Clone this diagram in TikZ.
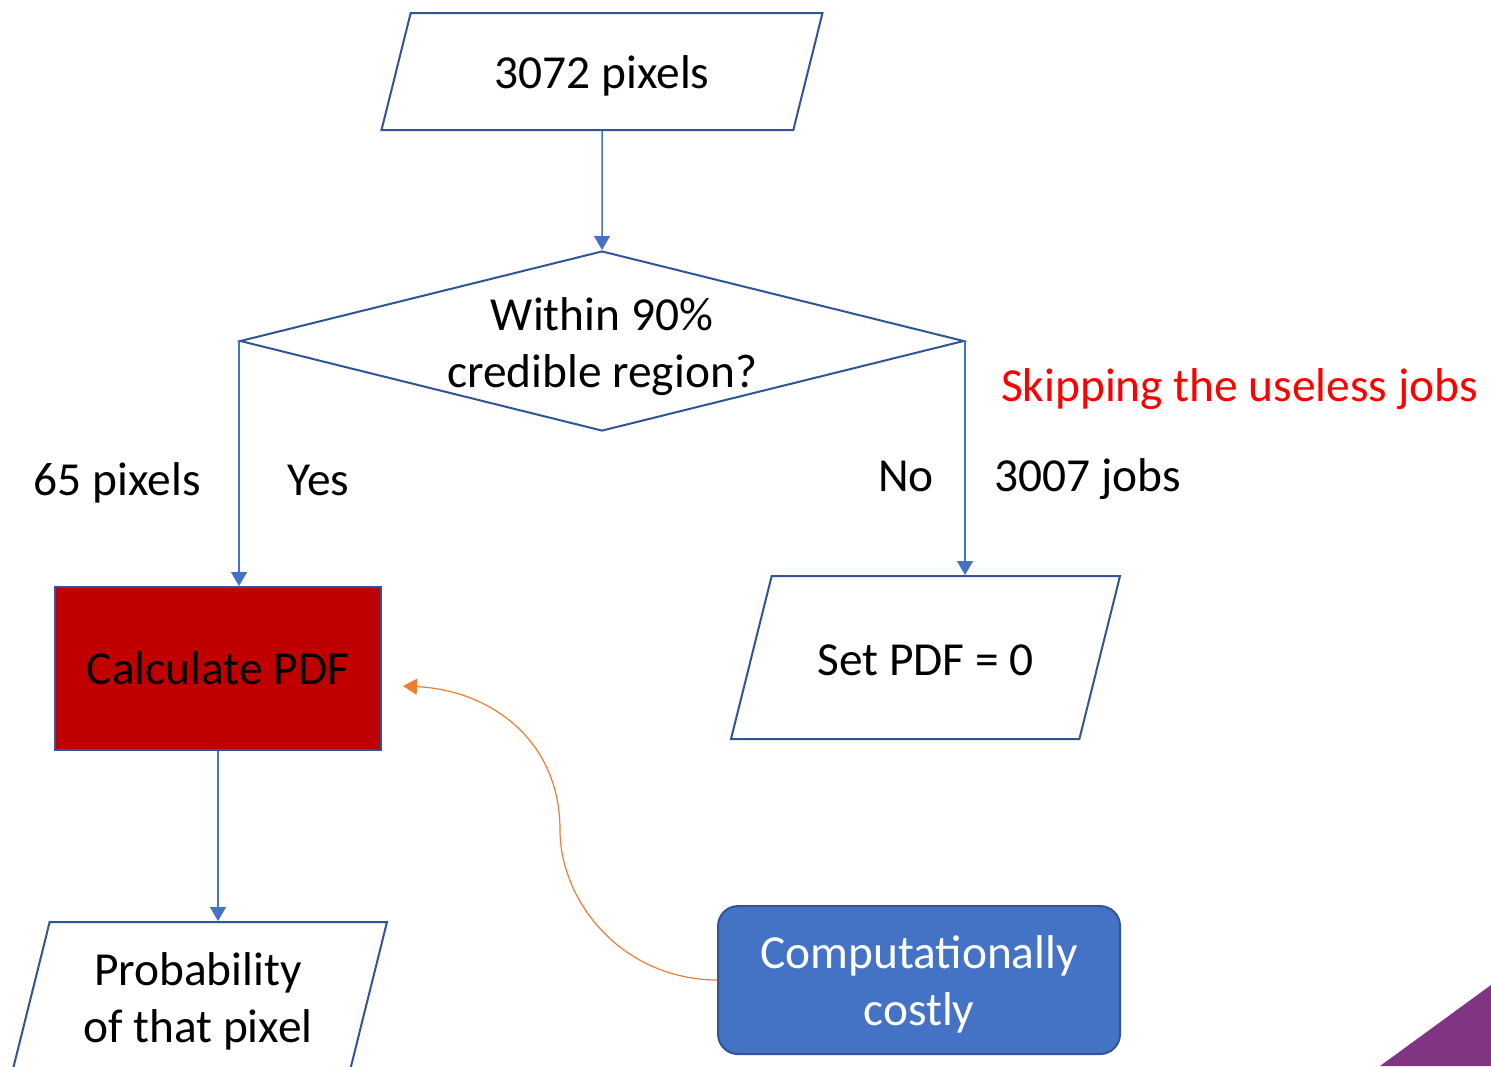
\documentclass[tikz,border=0pt]{standalone}
\usepackage{fontspec}
\setmainfont{Carlito}
\usetikzlibrary{shapes.geometric, arrows.meta, positioning}
\definecolor{frameblue}{RGB}{47,85,151}
\definecolor{lineblue}{RGB}{68,114,196}
\definecolor{costorange}{RGB}{237,125,49}
\definecolor{calcred}{RGB}{192,0,0}
\definecolor{cornerpurple}{RGB}{128,52,130}

\begin{document}
\begin{tikzpicture}[
    x=1pt, y=1pt,
    font=\fontsize{23.7}{28.5}\selectfont,
    io/.style={
        trapezium, trapezium left angle=76, trapezium right angle=104,
        trapezium stretches body=true,
        draw=frameblue, line width=1pt,
        inner sep=0pt, align=center
    },
    decision/.style={
        diamond, draw=frameblue, line width=1pt,
        minimum width=362pt, minimum height=90pt,
        inner sep=0pt
    },
    process/.style={
        rectangle, draw=frameblue, fill=calcred, line width=1pt,
        minimum width=163pt, minimum height=81.5pt
    },
    note/.style={
        rectangle, rounded corners=10pt,
        draw=frameblue, fill=lineblue, line width=1pt,
        text=white, align=center, text depth=0pt,
        minimum width=201pt, minimum height=74pt
    },
    edgetext/.style={text=black},
    flow/.style={-{Triangle[length=7pt,width=8pt]}, lineblue, line width=0.75pt},
    costarrow/.style={-{Triangle[length=7pt,width=8pt]}, costorange, line width=0.6pt}
]
\useasboundingbox (0,0) rectangle (745.5,-533);
\clip (0,0) rectangle (745.5,-533);

\node[io, minimum width=220.5pt, text height=37.5pt, text depth=21pt] (input) at (301,-35.75) {3072 pixels};
\node[decision, below=59.5pt of input,
      label={[align=center, yshift=-3pt]center:{Within 90\%\\credible region?}}] (check) {};
\node[process, below=122.5pt of check.west, xshift=-10.5pt] (calc) {Calculate PDF};
\node[io, minimum width=194.5pt, text height=49.5pt, text depth=32pt,
      below=117pt of check.east, xshift=-19.75pt] (setzero) {Set PDF = 0};
\node[io, minimum width=189pt, text height=60pt, text depth=21.5pt,
      below=85pt of calc, xshift=-10pt] (prob) {Probability\\of that pixel};
\node[note, below=82.5pt of setzero, xshift=-3.25pt] (costly) {Computationally\\costly};
\node[anchor=base west, text=red] (skip) at (497,-200.5) {Skipping the useless jobs};

\draw[flow] (input) -- (check);
\draw[flow] (check.west) -- (check.west |- calc.north)
    node[edgetext, pos=0.63, anchor=base east, xshift=-15.5pt] (pix) {65 pixels}
    node[edgetext, pos=0.63, anchor=base west, xshift=20.5pt] (yes) {Yes};
\draw[flow] (check.east) -- (check.east |- setzero.north)
    node[edgetext, pos=0.645, anchor=base east, xshift=-12pt] (no) {No}
    node[edgetext, pos=0.645, anchor=base west, xshift=11pt] (jobs) {3007 jobs};
\draw[flow] (calc.south) -- (calc.south |- prob.north);
\draw[costarrow] (costly.west) .. controls (310,-489.5) and (280,-450) .. (280,-415)
    .. controls (280,-370) and (245,-345) .. ([xshift=10.5pt, yshift=-8.75pt]calc.east);

% corner of the slide
\fill[cornerpurple] (690,-533) -- (745.5,-492.5) -- (745.5,-533) -- cycle;

\end{tikzpicture}
\end{document}
